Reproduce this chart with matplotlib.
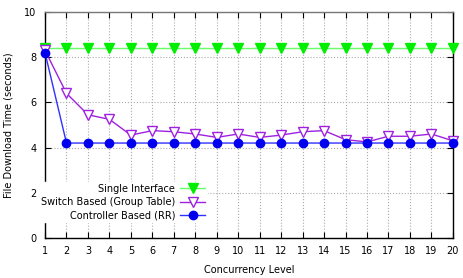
import numpy as np
import matplotlib
matplotlib.use("Agg")
import matplotlib.pyplot as plt

plt.rcParams['font.family'] = ['DejaVu Sans']
plt.rcParams['font.size'] = 7

# data
levels = list(range(1, 21))
single_iface = [8.4] * 20
switch_based = [8.3, 6.4, 5.45, 5.25, 4.55, 4.75, 4.7, 4.6, 4.45, 4.6,
                4.45, 4.55, 4.7, 4.75, 4.35, 4.25, 4.5, 4.5, 4.6, 4.3]
controller_rr = [8.2] + [4.2] * 19

fig = plt.figure(figsize=(4.64, 2.78), dpi=100)
ax = fig.add_axes([0.097, 0.144, 0.879, 0.813])

ax.plot(levels, single_iface, color='#66ff66', lw=1, marker='v', ms=6.5,
        mfc='#00ee00', mec='#00ee00', label='Single Interface', zorder=3,
        clip_on=False)
ax.plot(levels, switch_based, color='#9f20e0', lw=1, marker='v', ms=6.5,
        mfc='white', mec='#9f20e0', label='Switch Based (Group Table)',
        zorder=3, clip_on=False)
ax.plot(levels, controller_rr, color='#3030ff', lw=1, marker='o', ms=6,
        mfc='#0000ee', mec='#0000ee', label='Controller Based (RR)', zorder=4,
        clip_on=False)

ax.set_xlim(1, 20)
ax.set_ylim(0, 10)
ax.set_xticks(levels)
ax.set_yticks([0, 2, 4, 6, 8, 10])
ax.grid(True, color='#aaaaaa', linestyle=':', lw=0.8)
ax.tick_params(direction='in', top=True, right=True, length=4, pad=6)
for s in ax.spines.values():
    s.set_linewidth(1)
ax.spines['top'].set_color('#777777')

ax.set_xlabel('Concurrency Level', labelpad=6)
ax.set_ylabel('File Download Time (seconds)', labelpad=8)

leg = ax.legend(loc='lower right', bbox_to_anchor=(0.41, 0.048),
                markerfirst=False, frameon=True, fancybox=False,
                edgecolor='white', framealpha=1, handlelength=2.6,
                borderpad=0.2, labelspacing=0.35, handletextpad=0.5,
                fontsize=7)
leg.set_zorder(5)

fig.savefig('out.png', dpi=100)
